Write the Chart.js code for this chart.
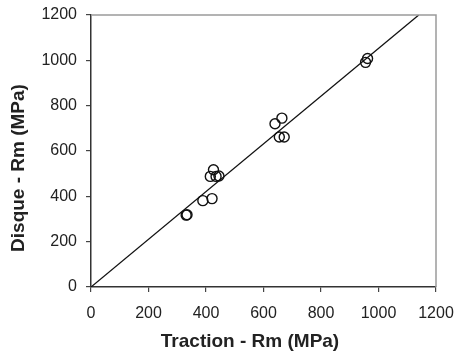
<!DOCTYPE html>
<html>
<head>
<meta charset="utf-8">
<script src="https://cdn.jsdelivr.net/npm/chart.js@4.4.1/dist/chart.umd.min.js"></script>
<style>
  html, body { margin: 0; padding: 0; background: #fff; }
  #wrap { width: 456px; height: 356px; }
</style>
</head>
<body>
<div id="wrap"><canvas id="c" width="456" height="356"></canvas></div>
<script>
// data
const tractionRm = [331, 334, 389, 421, 426, 415, 435, 445, 640, 664, 655, 672, 955, 962];
const disqueRm   = [317, 319, 381, 390, 517, 488, 488, 490, 720, 745, 662, 662, 991, 1008];
const fitX = [0, 1140];
const fitY = [0, 1200];
const axisTicks = [0, 200, 400, 600, 800, 1000, 1200];
const xTitle = 'Traction - Rm (MPa)';
const yTitle = 'Disque - Rm (MPa)';

const points = tractionRm.map((x, i) => ({ x, y: disqueRm[i] }));
const fitLine = fitX.map((x, i) => ({ x, y: fitY[i] }));

const FONT = 'Liberation Sans, Arial, sans-serif';

// top/right frame is lighter grey than the axes
const frame = {
  id: 'frame',
  afterDraw(chart) {
    const { ctx, chartArea: a } = chart;
    ctx.save();
    ctx.strokeStyle = '#9a9a9a';
    ctx.lineWidth = 1.5;
    ctx.beginPath();
    ctx.moveTo(a.left, a.top);
    ctx.lineTo(a.right, a.top);
    ctx.lineTo(a.right, a.bottom);
    ctx.stroke();
    ctx.restore();
  }
};

// axis titles sit a bit off-centre in the original, so place them by hand
const axisTitles = {
  id: 'axisTitles',
  afterDraw(chart) {
    const { ctx } = chart;
    ctx.save();
    ctx.fillStyle = '#222';
    ctx.font = 'bold 19px ' + FONT;
    ctx.textAlign = 'center';
    ctx.textBaseline = 'middle';
    ctx.fillText(xTitle, 250, 342);
    ctx.translate(19, 168);
    ctx.rotate(-Math.PI / 2);
    ctx.fillText(yTitle, 0, 0);
    ctx.restore();
  }
};

const tickFont = { family: FONT, size: 16 };

new Chart(document.getElementById('c'), {
  type: 'scatter',
  data: {
    datasets: [
      {
        data: fitLine,
        showLine: true,
        borderColor: '#111',
        borderWidth: 1.3,
        pointRadius: 0,
        order: 2
      },
      {
        data: points,
        pointRadius: 5,
        pointBorderWidth: 1.4,
        pointBorderColor: '#111',
        pointBackgroundColor: 'rgba(0,0,0,0)',
        order: 1
      }
    ]
  },
  options: {
    responsive: false,
    animation: false,
    layout: { padding: { left: 0, right: 20, top: 15, bottom: 0 } },
    plugins: { legend: { display: false }, tooltip: { enabled: false } },
    scales: {
      x: {
        type: 'linear', min: 0, max: 1200,
        afterBuildTicks: (s) => { s.ticks = axisTicks.map(v => ({ value: v })); },
        afterFit: (s) => { s.height = 69; s.paddingLeft = 0; s.paddingRight = 0; },
        grid: { drawOnChartArea: false, drawTicks: true, tickLength: 5, color: '#444', lineWidth: 1.2 },
        border: { color: '#333', width: 1.5 },
        ticks: { color: '#222', font: tickFont, padding: 12, maxRotation: 0, callback: v => String(v) }
      },
      y: {
        type: 'linear', min: 0, max: 1200,
        afterBuildTicks: (s) => { s.ticks = axisTicks.map(v => ({ value: v })); },
        afterFit: (s) => { s.width = 91; s.paddingTop = 0; s.paddingBottom = 0; },
        grid: { drawOnChartArea: false, drawTicks: true, tickLength: 5, color: '#444', lineWidth: 1.2 },
        border: { color: '#333', width: 1.5 },
        ticks: { color: '#222', font: tickFont, padding: 9, callback: v => String(v) }
      }
    }
  },
  plugins: [frame, axisTitles]
});
</script>
</body>
</html>
